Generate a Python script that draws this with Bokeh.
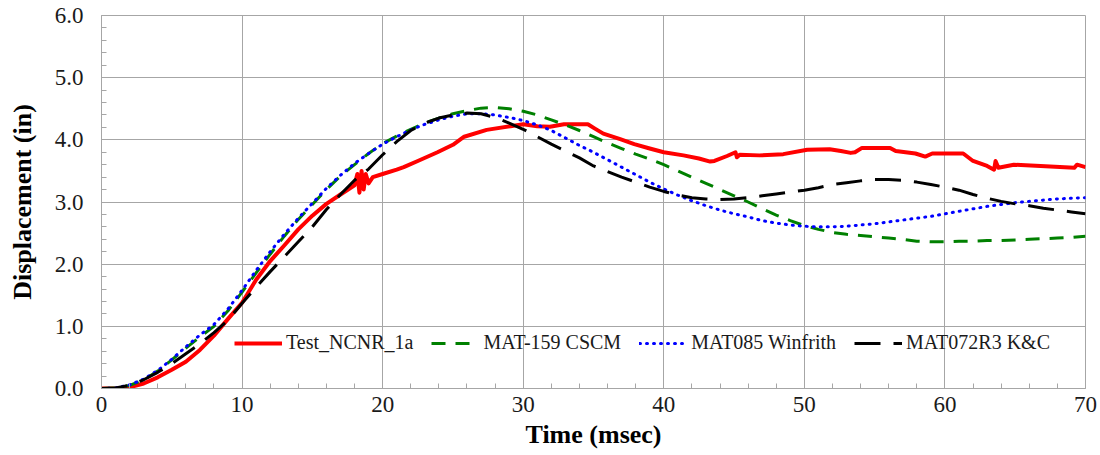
from bokeh.plotting import figure
from bokeh.models import SingleIntervalTicker, Legend, LegendItem, NumeralTickFormatter, Range1d
from bokeh.embed import file_html
from bokeh.resources import INLINE

# ---- data ----
model_time = list(range(0, 71))

cscm_disp = [0.0, 0.01, 0.05, 0.14, 0.28, 0.46, 0.65, 0.83, 1.0, 1.25,
             1.55, 1.86, 2.16, 2.45, 2.72, 2.96, 3.2, 3.42, 3.6, 3.78,
             3.94, 4.06, 4.17, 4.27, 4.35, 4.42, 4.47, 4.51, 4.52, 4.5,
             4.46, 4.4, 4.32, 4.24, 4.15, 4.05, 3.95, 3.86, 3.77, 3.69,
             3.6, 3.5, 3.4, 3.3, 3.2, 3.1, 3.0, 2.89, 2.79, 2.7,
             2.62, 2.56, 2.51, 2.48, 2.46, 2.44, 2.42, 2.4, 2.37, 2.36,
             2.36, 2.37, 2.37, 2.38, 2.38, 2.39, 2.4, 2.41, 2.42, 2.43, 2.45]

winfrith_disp = [0.0, 0.01, 0.06, 0.15, 0.29, 0.47, 0.67, 0.86, 1.03, 1.28,
                 1.58, 1.9, 2.2, 2.48, 2.74, 2.98, 3.22, 3.43, 3.62, 3.78,
                 3.93, 4.05, 4.16, 4.25, 4.32, 4.38, 4.42, 4.42, 4.4, 4.36,
                 4.31, 4.24, 4.15, 4.03, 3.91, 3.8, 3.68, 3.56, 3.44, 3.32,
                 3.21, 3.11, 3.02, 2.94, 2.87, 2.81, 2.76, 2.7, 2.66, 2.63,
                 2.61, 2.6, 2.6, 2.61, 2.63, 2.65, 2.68, 2.71, 2.74, 2.77,
                 2.81, 2.85, 2.89, 2.93, 2.96, 2.99, 3.01, 3.03, 3.05, 3.06, 3.07]

kc_disp = [0.0, 0.01, 0.05, 0.14, 0.26, 0.4, 0.56, 0.72, 0.9, 1.1,
           1.37, 1.63, 1.88, 2.12, 2.36, 2.6, 2.88, 3.12, 3.35, 3.53,
           3.76, 3.97, 4.15, 4.27, 4.35, 4.4, 4.43, 4.42, 4.36, 4.27,
           4.17, 4.05, 3.93, 3.82, 3.71, 3.58, 3.49, 3.4, 3.32, 3.24,
           3.17, 3.11, 3.07, 3.05, 3.04, 3.05, 3.07, 3.1, 3.13, 3.16,
           3.19, 3.23, 3.28, 3.31, 3.34, 3.36, 3.36, 3.35, 3.32, 3.28,
           3.24, 3.19, 3.12, 3.06, 3.01, 2.97, 2.94, 2.9, 2.87, 2.84, 2.81]

test_time = [0, 1, 1.5, 2, 3, 4, 5, 6, 7, 8, 9, 10, 11, 12, 13, 14, 15, 16, 17, 18,
             18.2, 18.35, 18.5, 18.65, 18.8, 19.0, 19.3, 20, 21, 21.5, 22.5, 23.9, 25,
             25.8, 27.4, 29.1, 30, 31, 31.9, 32.9, 34.6, 35.1, 35.7, 36.9, 37.9, 39,
             40, 41.4, 42.5, 43.3, 43.6, 44.5, 45.1, 45.2, 45.4, 46.8, 48.5, 50.2,
             51.8, 52.6, 53.3, 53.6, 54.1, 56.1, 56.5, 57.9, 58.6, 59.1, 61.3, 62,
             63, 63.5, 63.6, 63.8, 64.9, 66.8, 69.2, 69.4, 70]
test_disp = [0.0, 0.0, 0.0, 0.02, 0.08, 0.18, 0.3, 0.43, 0.62, 0.85, 1.12, 1.38,
             1.75, 2.05, 2.3, 2.56, 2.78, 2.97, 3.12, 3.27,
             3.45, 3.15, 3.5, 3.2, 3.45, 3.3, 3.4, 3.45, 3.52, 3.56, 3.66, 3.8, 3.92,
             4.05, 4.16, 4.22, 4.25, 4.22, 4.21, 4.25, 4.25, 4.18, 4.1, 4.01, 3.93, 3.86,
             3.8, 3.75, 3.7, 3.65, 3.66, 3.74, 3.8, 3.72, 3.76, 3.75, 3.77, 3.84,
             3.85, 3.82, 3.79, 3.8, 3.87, 3.87, 3.82, 3.78, 3.73, 3.78, 3.78, 3.66,
             3.58, 3.52, 3.66, 3.55, 3.6, 3.58, 3.55, 3.6, 3.56]

series_names = ["Test_NCNR_1a", "MAT-159 CSCM", "MAT085 Winfrith", "MAT072R3 K&C"]
x_title = "Time (msec)"
y_title = "Displacement (in)"

FONT = "Liberation Serif"
GRID = "#a6a6a6"

p = figure(width=1100, height=455, output_backend="svg", toolbar_location=None,
           x_range=Range1d(0, 70), y_range=Range1d(0, 6),
           min_border_left=101, min_border_right=15, min_border_top=15, min_border_bottom=67)
p.background_fill_color = "white"
p.border_fill_color = "white"
p.outline_line_color = GRID
p.outline_line_width = 1

p.xaxis.ticker = SingleIntervalTicker(interval=10, num_minor_ticks=5)
p.yaxis.ticker = SingleIntervalTicker(interval=1, num_minor_ticks=5)
p.yaxis.formatter = NumeralTickFormatter(format="0.0")

for ax in (p.xaxis[0], p.yaxis[0]):
    ax.axis_line_color = GRID
    ax.major_tick_line_color = GRID
    ax.minor_tick_line_color = GRID
    ax.major_tick_in = 0
    ax.major_tick_out = 0
    ax.minor_tick_in = 5
    ax.minor_tick_out = 0
    ax.major_label_text_font = FONT
    ax.major_label_text_font_size = "23px"
    ax.major_label_text_color = "#1a1a1a"
    ax.axis_label_text_font = FONT
    ax.axis_label_text_font_size = "26px"
    ax.axis_label_text_font_style = "bold"
    ax.axis_label_text_color = "black"

p.xaxis.axis_label = x_title
p.yaxis.axis_label = y_title
p.xaxis.major_label_standoff = 8
p.xaxis.axis_label_standoff = 5
p.yaxis.major_label_standoff = 18
p.yaxis.axis_label_standoff = 15

p.xgrid.grid_line_color = GRID
p.ygrid.grid_line_color = GRID
p.xgrid.grid_line_width = 1
p.ygrid.grid_line_width = 1

r_test = p.line(test_time, test_disp, line_color="#ff0000", line_width=4, line_join="round")
r_cscm = p.line(model_time, cscm_disp, line_color="#008000", line_width=3, line_dash="14 10")
r_win = p.line(model_time, winfrith_disp, line_color="#0000ff", line_width=3, line_dash="1 6",
               line_cap="round")
r_kc = p.line(model_time, kc_disp, line_color="black", line_width=3, line_dash="26 13")

legend = Legend(items=[LegendItem(label=series_names[0], renderers=[r_test]),
                       LegendItem(label=series_names[1], renderers=[r_cscm]),
                       LegendItem(label=series_names[2], renderers=[r_win]),
                       LegendItem(label=series_names[3], renderers=[r_kc])],
                orientation="horizontal", location=(133, 34))
legend.background_fill_alpha = 0
legend.border_line_alpha = 0
legend.label_text_font = FONT
legend.label_text_font_size = "20px"
legend.label_text_color = "#1a1a1a"
legend.glyph_width = 48
legend.glyph_height = 20
legend.label_standoff = 4
legend.spacing = 18
legend.padding = 0
legend.margin = 0
p.add_layout(legend, "center")

open("out.html", "w").write(file_html(p, INLINE))
